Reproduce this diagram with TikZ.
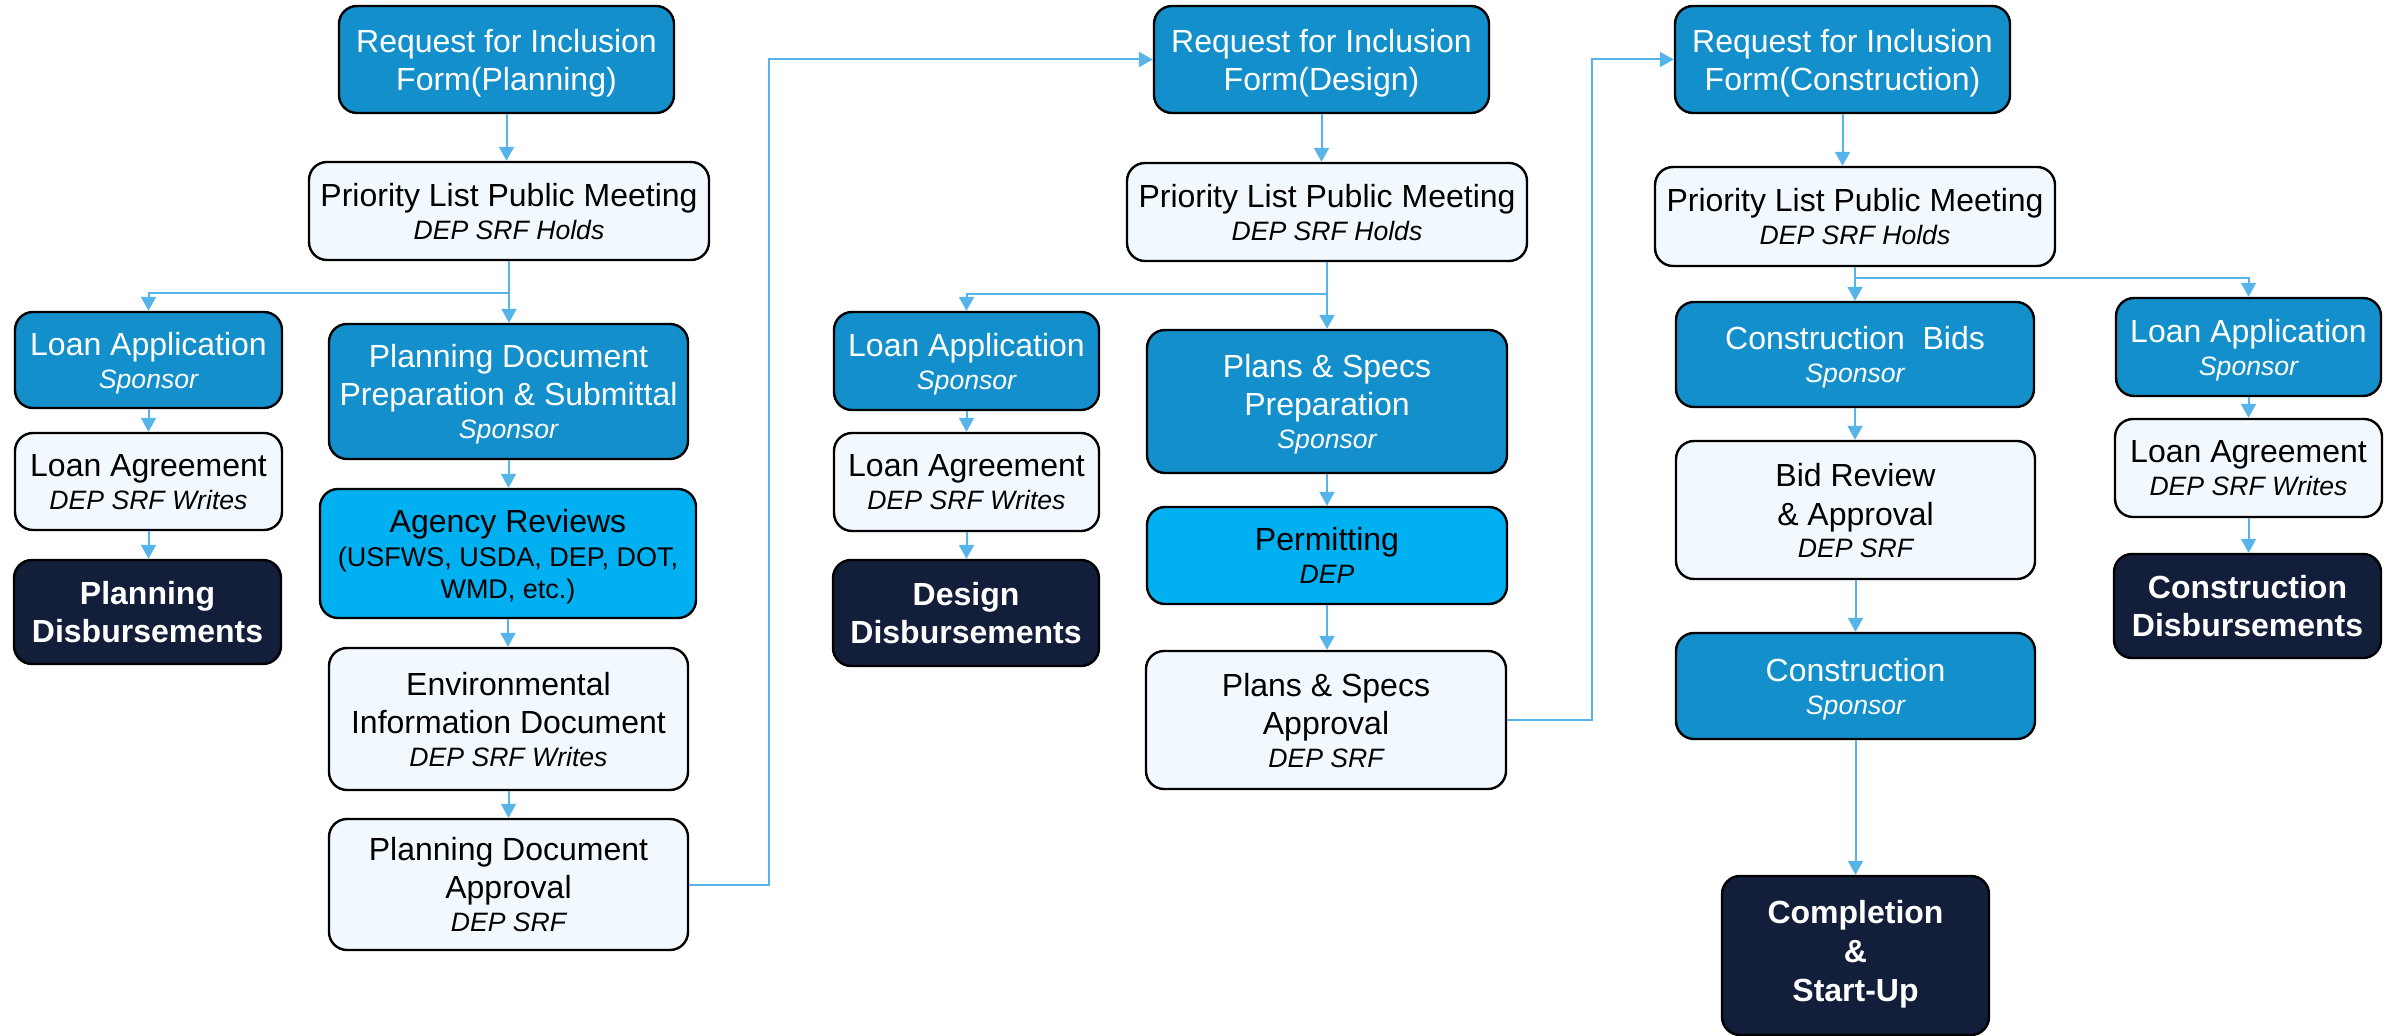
\documentclass[tikz,border=0pt]{standalone}
\usepackage{fontspec}
\setmainfont{Liberation Sans}
\usetikzlibrary{arrows.meta}
\definecolor{midblue}{RGB}{19,144,204}
\definecolor{brightblue}{RGB}{0,176,240}
\definecolor{liteblue}{RGB}{242,249,254}
\definecolor{navy}{RGB}{19,30,58}
\definecolor{connblue}{RGB}{86,180,233}
\newcommand\subt{\fontsize{13.3}{16}\selectfont\itshape}
\newcommand\paren{\fontsize{13.5}{16}\selectfont}
\tikzset{
  box/.style={draw=black, line width=1.2pt, rounded corners=9pt, align=center, inner sep=2pt, text depth=0pt, font=\fontsize{16}{19}\selectfont},
  midbox/.style={box, fill=midblue, text=white},
  litebox/.style={box, fill=liteblue, text=black},
  brightbox/.style={box, fill=brightblue, text=black},
  darkbox/.style={box, fill=navy, text=white, font=\fontsize{16}{19}\selectfont\bfseries},
  sz/.style 2 args={minimum width=#1*0.5pt, minimum height=#2*0.5pt},
  conn/.style={draw=connblue, line width=1pt, -{Triangle[length=7pt,width=7.5pt]}}
}
\begin{document}
\begin{tikzpicture}[x=0.5pt,y=-0.5pt]
\fill[white] (0,0) rectangle (2403,1036);
\useasboundingbox (0,0) rectangle (2403,1036);
% ---------------- Planning ----------------
\node[midbox, sz={335}{107}] (reqP) at (506.5,59.5) {Request for Inclusion\\Form(Planning)};
\node[litebox, sz={400}{98}] (priP) at (509,211) {Priority List Public Meeting\\[-2.5pt]{\subt DEP SRF Holds}};
\node[midbox, sz={267}{96}] (laP) at (148.5,360) {Loan Application\\[-2.5pt]{\subt Sponsor}};
\node[litebox, sz={267}{97}] (lagP) at (148.5,481.5) {Loan Agreement\\[-2.5pt]{\subt DEP SRF Writes}};
\node[darkbox, sz={267}{104}] (disbP) at (147.5,612) {Planning\\Disbursements};
\node[midbox, sz={359}{135}] (pdp) at (508.5,391.5) {Planning Document\\Preparation \& Submittal\\[-2.5pt]{\subt Sponsor}};
\node[brightbox, sz={376}{129}] (ar) at (508,553.5) {Agency Reviews\\[-2pt]{\paren (USFWS, USDA, DEP, DOT,}\\[-3pt]{\paren WMD, etc.)}};
\node[litebox, sz={359}{142}] (eid) at (508.5,719) {Environmental\\Information Document\\[-2.5pt]{\subt DEP SRF Writes}};
\node[litebox, sz={359}{131}] (pda) at (508.5,884.5) {Planning Document\\Approval\\[-2.5pt]{\subt DEP SRF}};
% ---------------- Design ----------------
\node[midbox, sz={335}{107}] (reqD) at (1321.5,59.5) {Request for Inclusion\\Form(Design)};
\node[litebox, sz={400}{98}] (priD) at (1327,212) {Priority List Public Meeting\\[-2.5pt]{\subt DEP SRF Holds}};
\node[midbox, sz={265}{98}] (laD) at (966.5,361) {Loan Application\\[-2.5pt]{\subt Sponsor}};
\node[litebox, sz={265}{98}] (lagD) at (966.5,482) {Loan Agreement\\[-2.5pt]{\subt DEP SRF Writes}};
\node[darkbox, sz={266}{106}] (disbD) at (966,613) {Design\\Disbursements};
\node[midbox, sz={360}{143}] (psp) at (1327,401.5) {Plans \& Specs\\Preparation\\[-2.5pt]{\subt Sponsor}};
\node[brightbox, sz={360}{97}] (perm) at (1327,555.5) {Permitting\\[-2.5pt]{\subt DEP}};
\node[litebox, sz={360}{138}] (psa) at (1326,720) {Plans \& Specs\\Approval\\[-2.5pt]{\subt DEP SRF}};
% ---------------- Construction ----------------
\node[midbox, sz={335}{107}] (reqC) at (1842.5,59.5) {Request for Inclusion\\Form(Construction)};
\node[litebox, sz={400}{99}] (priC) at (1855,216.5) {Priority List Public Meeting\\[-2.5pt]{\subt DEP SRF Holds}};
\node[midbox, sz={358}{105}] (cb) at (1855,354.5) {Construction~~Bids\\[-2.5pt]{\subt Sponsor}};
\node[litebox, sz={359}{138}] (br) at (1855.5,510) {Bid Review\\[0.5pt]\& Approval\\[-3pt]{\subt DEP SRF}};
\node[midbox, sz={359}{106}] (con) at (1855.5,686) {Construction\\[-2.5pt]{\subt Sponsor}};
\node[darkbox, sz={267}{159}, text depth=4.6pt] (comp) at (1855.5,955.5) {Completion\\[0.5pt]\&\\[0.5pt]Start-Up};
\node[midbox, sz={265}{98}] (laC) at (2248.5,347) {Loan Application\\[-2.5pt]{\subt Sponsor}};
\node[litebox, sz={267}{98}] (lagC) at (2248.5,468) {Loan Agreement\\[-2.5pt]{\subt DEP SRF Writes}};
\node[darkbox, sz={267}{104}] (disbC) at (2247.5,606) {Construction\\Disbursements};
% ---------------- Connectors: Planning ----------------
\draw[conn] (reqP.south) -- (reqP.south |- priP.north);
\path (priP.south) ++(0,32) coordinate (bP);
\draw[conn] (priP.south) -- (priP.south |- pdp.north);
\draw[conn] (bP) -| (laP.north);
\draw[conn] (laP.south) -- (laP.south |- lagP.north);
\draw[conn] (lagP.south) -- (lagP.south |- disbP.north);
\draw[conn] (pdp.south) -- (pdp.south |- ar.north);
\draw[conn] (ar.south) -- (ar.south |- eid.north);
\draw[conn] (eid.south) -- (eid.south |- pda.north);
\path (pda.east) ++(80,0) coordinate (jP);
\draw[conn] (pda.east) -- (jP) |- (reqD.west);
% ---------------- Connectors: Design ----------------
\draw[conn] (reqD.south) -- (reqD.south |- priD.north);
\path (priD.south) ++(0,32) coordinate (bD);
\draw[conn] (priD.south) -- (priD.south |- psp.north);
\draw[conn] (bD) -| (laD.north);
\draw[conn] (laD.south) -- (laD.south |- lagD.north);
\draw[conn] (lagD.south) -- (lagD.south |- disbD.north);
\draw[conn] (psp.south) -- (psp.south |- perm.north);
\draw[conn] (perm.south) -- (perm.south |- psa.north);
\path (psa.east) ++(85,0) coordinate (jD);
\draw[conn] (psa.east) -- (jD) |- (reqC.west);
% ---------------- Connectors: Construction ----------------
\draw[conn] (reqC.south) -- (reqC.south |- priC.north);
\path (priC.south) ++(0,11) coordinate (bC);
\draw[conn] (priC.south) -- (priC.south |- cb.north);
\draw[conn] (bC) -| (laC.north);
\draw[conn] (cb.south) -- (cb.south |- br.north);
\draw[conn] (br.south) -- (br.south |- con.north);
\draw[conn] (con.south) -- (con.south |- comp.north);
\draw[conn] (laC.south) -- (laC.south |- lagC.north);
\draw[conn] (lagC.south) -- (lagC.south |- disbC.north);
\end{tikzpicture}
\end{document}
